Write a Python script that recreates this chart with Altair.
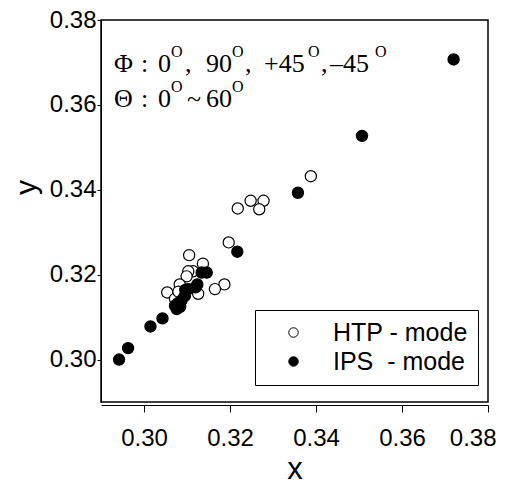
import altair as alt
import pandas as pd

# HTP - mode (open circles)
htp_x = [0.3388, 0.3278, 0.3248, 0.3268, 0.3218, 0.3197, 0.3105, 0.3137, 0.3114,
         0.3103, 0.3099, 0.3187, 0.3165, 0.3054, 0.3083, 0.3126, 0.3072, 0.3080]
htp_y = [0.3432, 0.3374, 0.3374, 0.3354, 0.3356, 0.3276, 0.3246, 0.3226, 0.3208,
         0.3208, 0.3196, 0.3177, 0.3166, 0.3158, 0.3177, 0.3155, 0.3143, 0.3160]

# IPS - mode (filled circles)
ips_x = [0.3720, 0.3507, 0.3358, 0.3217, 0.3146, 0.3134, 0.3124, 0.3120, 0.3103, 0.3096,
         0.3095, 0.3087, 0.3079, 0.3072, 0.3084, 0.3076, 0.3043, 0.3015, 0.2963, 0.2942]
ips_y = [0.3707, 0.3527, 0.3393, 0.3254, 0.3205, 0.3205, 0.3177, 0.3170, 0.3166, 0.3164,
         0.3150, 0.3139, 0.3133, 0.3127, 0.3124, 0.3119, 0.3097, 0.3078, 0.3027, 0.3000]

series = ["HTP - mode", "IPS\u00a0 - mode"]
ticks = [0.30, 0.32, 0.34, 0.36, 0.38]

# annotation text pieces (main text and superscript "O")
main_text = ["\u03a6", ":", "0", ",", "90", ",", "+45", ",", "\u201345",
             "\u0398", ":", "0", "~", "60"]
main_px = [13, 40, 57, 84, 105, 144, 163, 220, 229, 13, 40, 57, 86, 105]
main_py = [52, 52, 52, 52, 52, 52, 52, 52, 52, 87, 87, 87, 87, 87]
sup_text = ["O", "O", "O", "O", "O", "O"]
sup_px = [70, 131, 207, 274, 70, 131]
sup_py = [37, 37, 37, 37, 72, 72]

df = pd.DataFrame({
    "x": htp_x + ips_x,
    "y": htp_y + ips_y,
    "mode": [series[0]] * len(htp_x) + [series[1]] * len(ips_x),
})

xs = alt.Scale(domain=[0.29, 0.38], nice=False, zero=False)
ys = alt.Scale(domain=[0.29, 0.38], nice=False, zero=False)

points = alt.Chart(df).mark_point(
    filled=True, shape="circle", size=125, stroke="black", strokeWidth=1.2, opacity=1
).encode(
    x=alt.X("x:Q", scale=xs, title="x",
            axis=alt.Axis(values=ticks, format=".2f", grid=False, offset=3,
                          tickSize=7, labelPadding=14, labelFontSize=24,
                          labelFlush=1, labelFlushOffset=8,
                          titleFontSize=31, titleFontWeight="normal", titlePadding=4,
                          labelFont="Liberation Sans", titleFont="Liberation Sans",
                          domainColor="black", tickColor="black", labelColor="black",
                          titleColor="black")),
    y=alt.Y("y:Q", scale=ys, title="y",
            axis=alt.Axis(values=ticks, format=".2f", grid=False, labelFlush=False,
                          tickSize=4, labelPadding=1, labelFontSize=24,
                          titleFontSize=30, titleFontWeight="normal", titlePadding=8,
                          titleY=167,
                          labelFont="Liberation Sans", titleFont="Liberation Sans",
                          domainColor="black", tickColor="black", labelColor="black",
                          titleColor="black")),
    fill=alt.Fill("mode:N", scale=alt.Scale(domain=series, range=["white", "black"]),
                  legend=alt.Legend(title=None, orient="none", legendX=154, legendY=290,
                                    padding=10, strokeColor="black", fillColor="white",
                                    symbolType="circle", symbolSize=90,
                                    symbolStrokeColor="black", symbolStrokeWidth=1,
                                    symbolOffset=16, labelOffset=27,
                                    labelFontSize=25, labelFont="Liberation Sans",
                                    labelColor="black", rowPadding=3)),
)

main_df = pd.DataFrame({"t": main_text, "px": main_px, "py": main_py})
sup_df = pd.DataFrame({"t": sup_text, "px": sup_px, "py": sup_py})

main_marks = alt.Chart(main_df).mark_text(
    align="left", baseline="alphabetic", font="Liberation Serif", fontSize=26, color="black"
).encode(x=alt.X("px:Q", scale=None), y=alt.Y("py:Q", scale=None), text="t:N")

sup_marks = alt.Chart(sup_df).mark_text(
    align="left", baseline="alphabetic", font="Liberation Serif", fontSize=16, color="black"
).encode(x=alt.X("px:Q", scale=None), y=alt.Y("py:Q", scale=None), text="t:N")

chart = alt.layer(points, main_marks, sup_marks).properties(
    width=387, height=382,
    autosize=alt.AutoSizeParams(type="none"),
    padding={"left": 93, "top": 12, "right": 15, "bottom": 84},
    background="white",
).configure_view(stroke="black", strokeWidth=1.5)

chart.save("out.html", embed_options={"renderer": "svg", "actions": False})
